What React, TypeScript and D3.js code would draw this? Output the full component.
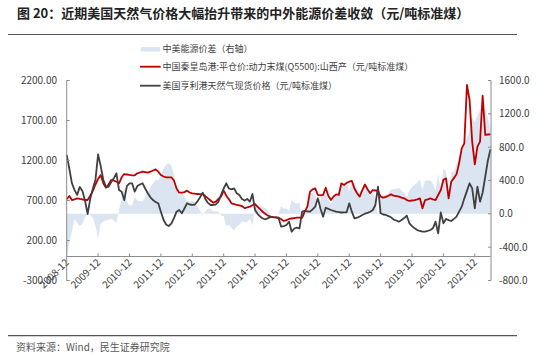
import React from 'react';
import * as d3 from 'd3';

// Monthly data, 2008-12 .. 2022-06 (163 months)
const chinaCoal = [
  715, 756, 706, 715, 727, 720, 715, 706, 706, 760,
  820, 900, 970, 1019, 915, 860, 900, 956, 950, 935,
  915, 990, 1031, 1025, 1019, 1015, 1015, 1040, 1050, 1060,
  1055, 1048, 1060, 1075, 1090, 1060, 1019, 1000, 990, 990,
  990, 950, 850, 798, 798, 805, 823, 800, 790, 785,
  781, 780, 777, 755, 727, 700, 673, 685, 720, 748,
  823, 760, 715, 665, 655, 644, 640, 631, 605, 615,
  623, 640, 656, 620, 590, 555, 531, 510, 498, 492,
  490, 485, 465, 444, 455, 469, 475, 480, 485, 485,
  485, 560, 623, 810, 840, 852, 769, 765, 769, 860,
  760, 706, 750, 777, 769, 915, 894, 920, 935, 944,
  850, 790, 748, 831, 900, 840, 790, 831, 825, 819,
  748, 736, 745, 760, 777, 760, 755, 748, 735, 727,
  705, 694, 700, 706, 715, 727, 602, 706, 715, 727,
  715, 706, 769, 831, 960, 977, 727, 935, 980, 1027,
  1165, 1352, 1415, 2144, 1956, 1435, 1152, 1373, 1435, 2010,
  1519, 1525, 1527,
];

const usGas = [
  1270, 1100, 915, 830, 770, 870, 820, 700, 531, 720,
  850, 960, 1277, 1130, 960, 872, 872, 930, 977, 1040,
  831, 810, 706, 880, 915, 915, 810, 880, 900, 915,
  850, 790, 740, 706, 680, 665, 560, 460, 400, 381,
  410, 480, 560, 581, 540, 600, 665, 650, 644, 650,
  690, 740, 798, 720, 670, 644, 644, 650, 685, 770,
  850, 915, 850, 840, 852, 790, 769, 720, 700, 720,
  685, 781, 581, 530, 498, 475, 465, 480, 495, 490,
  490, 477, 373, 380, 394, 435, 310, 350, 360, 352,
  560, 569, 565, 560, 590, 623, 727, 600, 498, 610,
  595, 581, 570, 560, 555, 550, 552, 552, 665, 560,
  477, 485, 500, 519, 535, 545, 560, 581, 644, 872,
  540, 525, 519, 505, 490, 460, 450, 435, 456, 480,
  510, 415, 380, 352, 330, 319, 310, 310, 320, 331,
  352, 435, 290, 552, 415, 469, 455, 444, 470, 498,
  560, 623, 727, 820, 915, 852, 602, 872, 685, 800,
  1000, 1200, 1340,
];

const spread = [
  -550, -340, -210, -60, -110, -150, -120, -40, 0, -10,
  -50, -150, -300, -120, -90, -80, -70, -60, -80, -110,
  50, 180, 320, 150, 100, 100, 200, 160, 150, 150,
  200, 260, 320, 370, 410, 400, 460, 540, 590, 610,
  580, 470, 290, 220, 260, 200, 160, 150, 150, 140,
  90, 40, -20, 30, 60, 60, 30, 30, 30, -20,
  -30, -150, -130, -170, -200, -150, -130, -90, -100, -100,
  -60, -140, 80, 90, 90, 80, 70, 30, 0, 0,
  0, 10, 90, 60, 60, 30, 170, 130, 120, 130,
  -70, -10, 60, 250, 250, 230, 40, 160, 270, 250,
  160, 120, 180, 220, 210, 360, 340, 370, 270, 380,
  370, 300, 250, 310, 360, 300, 230, 250, 180, -50,
  210, 210, 230, 250, 290, 300, 300, 310, 280, 250,
  200, 280, 320, 350, 380, 410, 290, 400, 400, 400,
  360, 270, 480, 280, 540, 510, 270, 490, 510, 600,
  700, 780, 870, 900, 1000, 1150, 1100, 1180, 1250, 1270,
  1250, 1150, 1000,
];

const xTickLabels = [
  '2008-12', '2009-12', '2010-12', '2011-12', '2012-12', '2013-12', '2014-12',
  '2015-12', '2016-12', '2017-12', '2018-12', '2019-12', '2020-12', '2021-12',
];
const leftTicks = [-300, 200, 700, 1200, 1700, 2200];
const rightTicks = [-800, -400, 0, 400, 800, 1200, 1600];

const title = '图 20：近期美国天然气价格大幅抬升带来的中外能源价差收敛（元/吨标准煤）';
const legendLabels = [
  '中美能源价差（右轴）',
  '中国秦皇岛港:平仓价:动力末煤(Q5500):山西产（元/吨标准煤）',
  '美国亨利港天然气现货价格（元/吨标准煤）',
];
const source = '资料来源：Wind，民生证券研究院';

const FONT = '"Noto Sans CJK SC", "Noto Sans", sans-serif';

export default function App() {
  const L = 66.7, R = 490.5, T = 80.5, B = 280.5;
  const n = chinaCoal.length;
  const x = d3.scaleLinear().domain([0, n - 1]).range([L, R]);
  const yL = d3.scaleLinear().domain([-300, 2200]).range([B, T]);
  const yR = d3.scaleLinear().domain([-800, 1600]).range([B, T]);

  const idx = d3.range(n);
  const area = d3.area<number>().x((i) => x(i)).y0(yR(0)).y1((i) => yR(spread[i]))(idx) || '';
  const redPath = d3.line<number>().x((i) => x(i)).y((i) => yL(chinaCoal[i]))(idx) || '';
  const grayPath = d3.line<number>().x((i) => x(i)).y((i) => yL(usGas[i]))(idx) || '';

  const tickIndex = (lab: string) => {
    const [yy, mm] = lab.split('-').map(Number);
    return (yy - 2008) * 12 + (mm - 12);
  };
  const axisY = yL(0);
  const axisColor = '#8c8c8c';

  return (
    <svg width={550} height={356} style={{ position: 'absolute', left: 0, top: 0, background: '#fff' }} fontFamily={FONT}>
      <text x={17} y={18} fontSize={13} fontWeight="bold" fill="#222">{title}</text>
      <line x1={8} x2={517} y1={34.5} y2={34.5} stroke="#555" strokeWidth={1.2} />

      {/* area */}
      <path d={area} fill="#dbe5f1" />

      {/* x axis */}
      <line x1={L} x2={R} y1={axisY} y2={axisY} stroke={axisColor} strokeWidth={1} />
      {xTickLabels.map((lab) => {
        const tx = x(tickIndex(lab));
        return (
          <g key={lab}>
            {tickIndex(lab) > 0 && <line x1={tx} x2={tx} y1={axisY - 3} y2={axisY} stroke={axisColor} />}
            <text transform={`translate(${tx + 3},${263}) rotate(-45)`} textAnchor="end" fontSize={10} fill="#404040">{lab}</text>
          </g>
        );
      })}

      {/* lines */}
      <path d={redPath} fill="none" stroke="#c00000" strokeWidth={1.8} strokeLinejoin="round" />
      <path d={grayPath} fill="none" stroke="#404040" strokeWidth={1.8} strokeLinejoin="round" />

      {/* left axis */}
      <line x1={L} x2={L} y1={T} y2={B} stroke={axisColor} />
      {leftTicks.map((t) => (
        <g key={t}>
          <line x1={L} x2={L + 3} y1={yL(t)} y2={yL(t)} stroke={axisColor} />
          <text x={57} y={yL(t)} dy="0.35em" textAnchor="end" fontSize={10} fill="#404040">{t.toFixed(2)}</text>
        </g>
      ))}

      {/* right axis */}
      <line x1={491} x2={491} y1={T} y2={B} stroke={axisColor} />
      {rightTicks.map((t) => (
        <g key={t}>
          <line x1={488} x2={491} y1={yR(t)} y2={yR(t)} stroke={axisColor} />
          <text x={499} y={yR(t)} dy="0.35em" textAnchor="start" fontSize={10} fill="#404040">{t.toFixed(1)}</text>
        </g>
      ))}

      {/* legend */}
      <rect x={141} y={47} width={19} height={4.5} fill="#dbe5f1" />
      <text x={162.5} y={49} dy="0.35em" fontSize={9} fill="#404040">{legendLabels[0]}</text>
      <line x1={140} x2={160.7} y1={66.7} y2={66.7} stroke="#c00000" strokeWidth={1.8} />
      <text x={162.5} y={66.7} dy="0.35em" fontSize={9} fill="#404040">{legendLabels[1]}</text>
      <line x1={140} x2={160.7} y1={85.7} y2={85.7} stroke="#404040" strokeWidth={1.8} />
      <text x={162.5} y={85.7} dy="0.35em" fontSize={9} fill="#404040">{legendLabels[2]}</text>

      <line x1={8} x2={517} y1={335.7} y2={335.7} stroke="#555" strokeWidth={1.2} />
      <text x={16} y={347.3} dy="0.35em" fontSize={10} fill="#595959">{source}</text>
    </svg>
  );
}
